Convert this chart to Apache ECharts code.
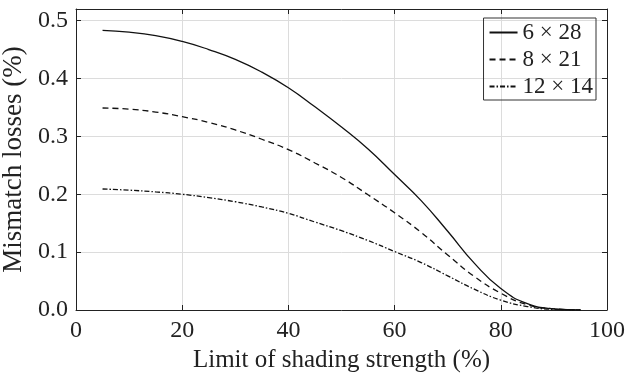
<!DOCTYPE html>
<html><head><meta charset="utf-8">
<script src="https://cdn.jsdelivr.net/npm/echarts@6/dist/echarts.min.js"></script>
<style>html,body{margin:0;padding:0;background:#fff}#c{width:627px;height:380px}</style>
</head><body><div id="c"></div>
<script>
const xs = [5,10,15,20,25,30,35,40,45,50,55,60,65,70,75,80,85,90,95];
const s6x28 = [0.483,0.480,0.474,0.464,0.450,0.433,0.411,0.384,0.351,0.316,0.278,0.234,0.189,0.136,0.081,0.037,0.011,0.002,0.000];
const s8x21 = [0.349,0.347,0.342,0.334,0.324,0.311,0.295,0.277,0.254,0.229,0.199,0.168,0.134,0.095,0.058,0.029,0.009,0.002,0.000];
const s12x14 = [0.209,0.207,0.204,0.200,0.194,0.187,0.178,0.167,0.152,0.137,0.120,0.101,0.082,0.059,0.036,0.017,0.006,0.001,0.000];
const names = ['6 × 28','8 × 21','12 × 14'];
const xTicks = [0,20,40,60,80,100];
const yTicks = [0.0,0.1,0.2,0.3,0.4,0.5];

const font = "'Liberation Serif', 'Times New Roman', serif";
const ink = '#222';
const pair = a => xs.map((x,i)=>[x,a[i]]);
const chart = echarts.init(document.getElementById('c'));
const axisLine = {show:true, onZero:false, lineStyle:{color:ink, width:1}};
const tick = {show:true, inside:true, length:5, lineStyle:{color:ink}};
chart.setOption({
  animation:false,
  backgroundColor:'#fff',
  grid:{left:76, right:20, top:9, bottom:70, containLabel:false, outerBoundsMode:'none'},
  legend:{
    orient:'vertical', right:31, top:18,
    borderColor:'#333', borderWidth:1, borderRadius:0,
    padding:[3,3,2,5], itemGap:4, itemWidth:28, itemHeight:14,
    itemStyle:{opacity:0, borderWidth:0},
    textStyle:{fontFamily:font, fontSize:23, color:ink},
    data:names
  },
  xAxis:[{
    type:'value', min:0, max:100, interval:20,
    name:'Limit of shading strength (%)', nameLocation:'middle', nameGap:30,
    nameTextStyle:{fontFamily:font, fontSize:25, color:ink},
    axisLine:axisLine, axisTick:tick,
    axisLabel:{fontFamily:font, fontSize:24, color:ink, margin:9,
      formatter:v=> xTicks.includes(v) ? String(v) : ''},
    splitLine:{show:true, lineStyle:{color:'#dcdcdc', width:1}}
  },{
    type:'value', position:'top', min:0, max:100, interval:20,
    axisLine:axisLine, axisTick:tick,
    axisLabel:{show:false}, splitLine:{show:false}
  }],
  yAxis:[{
    type:'value', min:0, max:0.52, interval:0.1,
    name:'Mismatch losses (%)', nameLocation:'middle', nameGap:40,
    nameTextStyle:{fontFamily:font, fontSize:27, color:ink},
    axisLine:axisLine, axisTick:tick,
    axisLabel:{fontFamily:font, fontSize:24, color:ink, margin:8, showMaxLabel:false,
      formatter:v=>{ const t = yTicks.find(y=>Math.abs(y-v)<1e-6); return t===undefined?'':t.toFixed(1);} },
    splitLine:{show:true, lineStyle:{color:'#dcdcdc', width:1}}
  },{
    type:'value', position:'right', min:0, max:0.52, interval:0.1,
    axisLine:axisLine, axisTick:tick,
    axisLabel:{show:false}, splitLine:{show:false}
  }],
  series:[
    {name:names[0], type:'line', symbol:'none', data:pair(s6x28), smooth:true,
     lineStyle:{color:'#111', width:1.3, type:'solid'}, itemStyle:{color:'#111'}},
    {name:names[1], type:'line', symbol:'none', data:pair(s8x21), smooth:true,
     lineStyle:{color:'#111', width:1.3, type:[6,4]}, itemStyle:{color:'#111'}},
    {name:names[2], type:'line', symbol:'none', data:pair(s12x14), smooth:true,
     lineStyle:{color:'#111', width:1.3, type:[5,2,1.5,2]}, itemStyle:{color:'#111'}}
  ]
});
</script></body></html>
